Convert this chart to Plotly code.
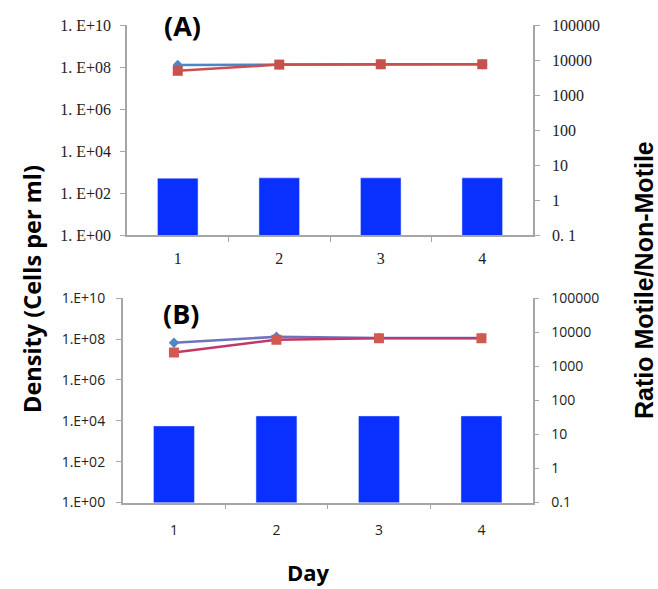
import plotly.graph_objects as go

W, H = 658, 589

days = [1, 2, 3, 4]

# Panel A
densA_motile = [1.25e8, 1.3e8, 1.35e8, 1.35e8]
densA_nonmotile = [6.6e7, 1.3e8, 1.35e8, 1.35e8]
ratioA = [4.2, 4.3, 4.3, 4.3]

# Panel B
densB_motile = [6.6e7, 1.3e8, 1.15e8, 1.15e8]
densB_nonmotile = [2.2e7, 9.3e7, 1.1e8, 1.1e8]
ratioB = [17.8, 35, 35, 35]

left_vals = [1, 1e2, 1e4, 1e6, 1e8, 1e10]
left_text_A = ["1. E+00", "1. E+02", "1. E+04", "1. E+06", "1. E+08", "1. E+10"]
left_text_B = ["1.E+00", "1.E+02", "1.E+04", "1.E+06", "1.E+08", "1.E+10"]
right_vals = [0.1, 1, 10, 100, 1000, 10000, 100000]
right_text_A = ["0. 1", "1", "10", "100", "1000", "10000", "100000"]
right_text_B = ["0.1", "1", "10", "100", "1000", "10000", "100000"]
day_labels = ["1", "2", "3", "4"]

BAR = "#0a30ff"
AX = "#a6a6a6"

def fx(p):
    return p / W

def fy(p):
    return (H - p) / H

def px_x(a, b):
    return [fx(a), fx(b)]

def px_y(top, bottom):
    return [fy(bottom), fy(top)]

fig = go.Figure()

# Panel A traces
fig.add_trace(go.Bar(x=days, y=ratioA, marker_color=BAR, width=0.4,
                     xaxis="x", yaxis="y2", showlegend=False))
fig.add_trace(go.Scatter(x=days, y=densA_motile, mode="lines+markers",
                         line=dict(color="#4a86c8", width=2.5),
                         marker=dict(symbol="diamond", size=8, color="#4a86c8"),
                         xaxis="x", yaxis="y", showlegend=False))
fig.add_trace(go.Scatter(x=days, y=densA_nonmotile, mode="lines+markers",
                         line=dict(color="#c8504d", width=2.5),
                         marker=dict(symbol="square", size=10, color="#c8504d"),
                         xaxis="x", yaxis="y", showlegend=False))

# Panel B traces
fig.add_trace(go.Bar(x=days, y=ratioB, marker_color=BAR, width=0.4,
                     xaxis="x2", yaxis="y4", showlegend=False))
fig.add_trace(go.Scatter(x=days, y=densB_motile, mode="lines+markers",
                         line=dict(color="#6b74bd", width=2.5),
                         marker=dict(symbol="diamond", size=8, color="#4f86c8"),
                         xaxis="x2", yaxis="y3", showlegend=False))
fig.add_trace(go.Scatter(x=days, y=densB_nonmotile, mode="lines+markers",
                         line=dict(color="#c0386a", width=2.5),
                         marker=dict(symbol="square", size=10, color="#d05a50"),
                         xaxis="x2", yaxis="y3", showlegend=False))

serif = dict(family="Liberation Serif", size=16, color="#222")
sans = dict(family="Open Sans", size=14, color="#222")

def xaxis_cfg(domain, anchor, font, standoff):
    return dict(domain=domain, anchor=anchor, range=[0.5, 4.5], automargin=False,
                tickvals=days, ticktext=day_labels, ticks="", tickfont=font,
                ticklabelstandoff=standoff,
                showline=True, linecolor=AX, linewidth=1.5, showgrid=False,
                zeroline=False,
                minor=dict(tickvals=[1.5, 2.5, 3.5], ticks="outside",
                           ticklen=5, tickcolor=AX, showgrid=False))

def ylog_cfg(domain, anchor, rng, vals, text, font, side="left", overlaying=None,
             standoff=4):
    d = dict(domain=domain, anchor=anchor, type="log", range=rng, automargin=False,
             tickvals=vals, ticktext=text, tickfont=font, ticks="outside",
             ticklen=5, tickcolor=AX, showline=True, linecolor=AX,
             ticklabelstandoff=standoff,
             linewidth=1.5, showgrid=False, zeroline=False, side=side)
    if overlaying:
        d["overlaying"] = overlaying
    return d

dxA = px_x(127, 533)
dyA = px_y(25, 235)
dxB = px_x(122.7, 532.7)
dyB = px_y(298.3, 502.5)

def label(text, x, y, family, size, angle=0):
    return dict(text=text, x=fx(x), y=fy(y), xref="paper", yref="paper",
                xanchor="center", yanchor="middle", textangle=angle,
                showarrow=False, font=dict(family=family, size=size, color="black"))

fig.update_layout(
    width=W, height=H,
    margin=dict(l=0, r=0, t=0, b=0, autoexpand=False),
    paper_bgcolor="white", plot_bgcolor="rgba(0,0,0,0)",
    showlegend=False,
    xaxis=xaxis_cfg(dxA, "y", serif, 8),
    yaxis=ylog_cfg(dyA, "x", [0, 10], left_vals, left_text_A, serif, standoff=6),
    yaxis2=ylog_cfg(dyA, "x", [-1, 5], right_vals, right_text_A, serif,
                    side="right", overlaying="y", standoff=9),
    xaxis2=xaxis_cfg(dxB, "y3", sans, 14),
    yaxis3=ylog_cfg(dyB, "x2", [0, 10], left_vals, left_text_B, sans, standoff=8),
    yaxis4=ylog_cfg(dyB, "x2", [-1, 5], right_vals, right_text_B, sans,
                    side="right", overlaying="y3", standoff=9),
    annotations=[
        label("<b>(A)</b>", 182, 26, "Open Sans", 27),
        label("<b>(B)</b>", 181, 313, "Open Sans", 27),
        label("<b>Density (Cells per ml)</b>", 32, 289, "Open Sans", 23.5, -90),
        label("<b>Ratio Motile/Non-Motile</b>", 644, 280, "Liberation Sans", 25, -90),
        label("<b>Day</b>", 308, 572, "Open Sans", 22),
    ],
)

fig.write_html("out.html",
               config={"displayModeBar": False},
               post_script="document.body.style.margin='0';"
                           "document.body.style.overflow='hidden';")
